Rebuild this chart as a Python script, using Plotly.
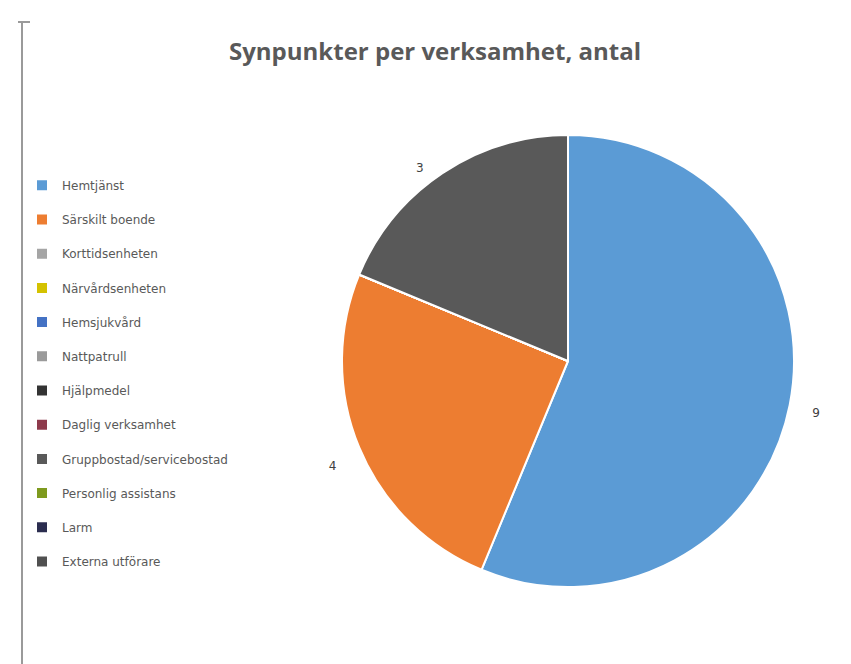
import plotly.graph_objects as go

categories = ["Hemtjänst", "Särskilt boende", "Korttidsenheten", "Närvårdsenheten",
              "Hemsjukvård", "Nattpatrull", "Hjälpmedel", "Daglig verksamhet",
              "Gruppbostad/servicebostad", "Personlig assistans", "Larm", "Externa utförare"]
values = [9, 4, 0, 0, 0, 0, 0, 0, 3, 0, 0, 0]
colors = ["#5B9BD5", "#ED7D31", "#A5A5A5", "#D4C200", "#4472C4", "#9A9A9A",
          "#333333", "#8E3A4C", "#595959", "#7E9A1E", "#2B2D4F", "#505050"]
title = "Synpunkter per verksamhet, antal"

W, H = 851, 664
cx, cy, r = 560, 353, 226

NB = "\u00a0"
pad = {0: NB + "<br>" + NB * 4 + "%{value}",
       1: NB + "<br>" + NB + "<br>" + "%{value}" + NB * 3,
       8: "%{value}" + NB * 4}
templates = [pad.get(i, "%{value}") if v else "" for i, v in enumerate(values)]

fig = go.Figure(go.Pie(
    labels=[c + "<br> " for c in categories],
    values=values,
    texttemplate=templates,
    textposition="outside",
    textfont=dict(family="DejaVu Sans", size=12, color="#404040"),
    sort=False,
    direction="clockwise",
    rotation=0,
    marker=dict(colors=colors, line=dict(color="white", width=2)),
    domain=dict(x=[(cx - r) / W, (cx + r) / W], y=[1 - (cy + r) / H, 1 - (cy - r) / H]),
    hoverinfo="label+value",
    showlegend=True,
))

fig.update_layout(
    width=W, height=H,
    margin=dict(l=0, r=0, t=0, b=0),
    paper_bgcolor="white",
    plot_bgcolor="white",
    title=dict(text="<b>" + title + "</b>", x=427 / W, xanchor="center", y=1 - 44 / H, yanchor="middle",
               font=dict(family="Open Sans", size=24, color="#595959")),
    legend=dict(
        x=14 / W, xanchor="left", y=1 - 163 / H, yanchor="top",
        font=dict(family="DejaVu Sans", size=12, color="#595959"),
        valign="top", bgcolor="rgba(0,0,0,0)", itemclick=False,
    ),
    shapes=[
        dict(type="line", xref="paper", yref="paper", x0=14 / W, x1=14 / W, y0=0, y1=1 - 14 / H,
             line=dict(color="#9a9a9a", width=2)),
        dict(type="line", xref="paper", yref="paper", x0=10 / W, x1=22 / W, y0=1 - 14 / H, y1=1 - 14 / H,
             line=dict(color="#9a9a9a", width=2)),
    ],
)

fig.write_html("out.html")
